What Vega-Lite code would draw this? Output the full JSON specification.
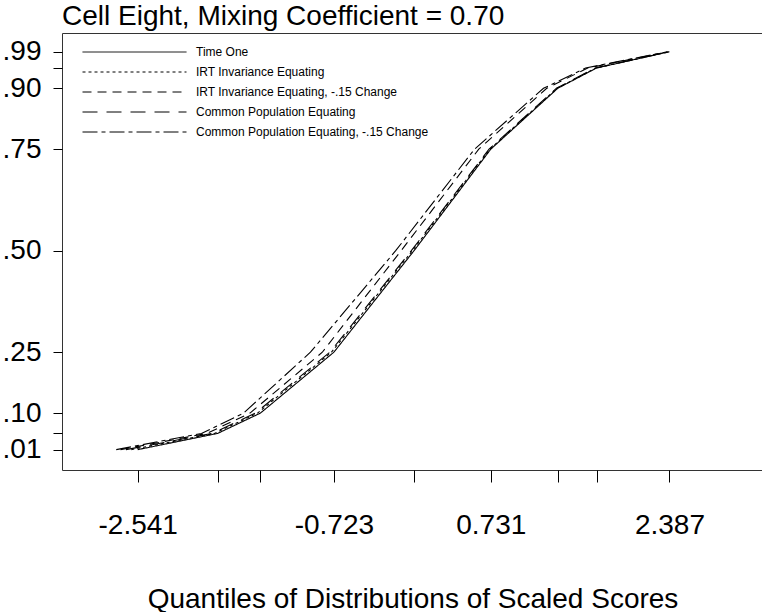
{
  "$schema": "https://vega.github.io/schema/vega-lite/v6.json",
  "autosize": {"type": "none"},
  "padding": {"left": 62, "top": 33, "right": 0, "bottom": 142},
  "width": 701,
  "height": 437,
  "background": "white",
  "title": {
    "text": "Cell Eight, Mixing Coefficient = 0.70",
    "anchor": "start",
    "frame": "group",
    "fontSize": 28,
    "font": "Liberation Sans",
    "fontWeight": "normal",
    "color": "black",
    "baseline": "alphabetic",
    "offset": 6,
    "dy": 26
  },
  "config": {
    "view": {"stroke": "#333", "strokeWidth": 1},
    "axis": {
      "grid": false,
      "domain": false,
      "tickColor": "black",
      "tickWidth": 1,
      "labelColor": "black",
      "labelFont": "Liberation Sans",
      "labelFontSize": 28,
      "titleFont": "Liberation Sans",
      "titleFontWeight": "normal",
      "titleColor": "black",
      "labelOverlap": false,
      "labelFlush": false,
      "labelBound": false
    },
    "legend": {
      "orient": "none",
      "legendX": 20,
      "legendY": 13,
      "padding": 0,
      "symbolType": "stroke",
      "symbolSize": 10816,
      "symbolStrokeWidth": 1,
      "symbolStrokeColor": "black",
      "symbolOffset": 0,
      "labelFont": "Liberation Sans",
      "labelFontSize": 12,
      "labelColor": "black",
      "labelOffset": 9,
      "labelLimit": 400,
      "clipHeight": 12,
      "rowPadding": 8
    }
  },
  "data": {
    "values": [
      {"series": "Time One", "x": -2.541, "p": 0.01},
      {"series": "Time One", "x": -1.800, "p": 0.05},
      {"series": "Time One", "x": -1.404, "p": 0.10},
      {"series": "Time One", "x": -0.723, "p": 0.25},
      {"series": "Time One", "x": 0.020, "p": 0.50},
      {"series": "Time One", "x": 0.731, "p": 0.75},
      {"series": "Time One", "x": 1.352, "p": 0.90},
      {"series": "Time One", "x": 1.712, "p": 0.95},
      {"series": "Time One", "x": 2.387, "p": 0.99},
      {"series": "IRT Invariance Equating", "x": -2.60, "p": 0.01},
      {"series": "IRT Invariance Equating", "x": -1.83, "p": 0.05},
      {"series": "IRT Invariance Equating", "x": -1.43, "p": 0.10},
      {"series": "IRT Invariance Equating", "x": -0.745, "p": 0.25},
      {"series": "IRT Invariance Equating", "x": 0.005, "p": 0.50},
      {"series": "IRT Invariance Equating", "x": 0.722, "p": 0.75},
      {"series": "IRT Invariance Equating", "x": 1.345, "p": 0.90},
      {"series": "IRT Invariance Equating", "x": 1.705, "p": 0.95},
      {"series": "IRT Invariance Equating", "x": 2.385, "p": 0.99},
      {"series": "IRT Invariance Equating, -.15 Change", "x": -2.70, "p": 0.01},
      {"series": "IRT Invariance Equating, -.15 Change", "x": -1.90, "p": 0.05},
      {"series": "IRT Invariance Equating, -.15 Change", "x": -1.50, "p": 0.10},
      {"series": "IRT Invariance Equating, -.15 Change", "x": -0.83, "p": 0.25},
      {"series": "IRT Invariance Equating, -.15 Change", "x": -0.10, "p": 0.50},
      {"series": "IRT Invariance Equating, -.15 Change", "x": 0.62, "p": 0.75},
      {"series": "IRT Invariance Equating, -.15 Change", "x": 1.25, "p": 0.90},
      {"series": "IRT Invariance Equating, -.15 Change", "x": 1.63, "p": 0.95},
      {"series": "IRT Invariance Equating, -.15 Change", "x": 2.37, "p": 0.99},
      {"series": "Common Population Equating", "x": -2.65, "p": 0.01},
      {"series": "Common Population Equating", "x": -1.85, "p": 0.05},
      {"series": "Common Population Equating", "x": -1.45, "p": 0.10},
      {"series": "Common Population Equating", "x": -0.76, "p": 0.25},
      {"series": "Common Population Equating", "x": -0.005, "p": 0.50},
      {"series": "Common Population Equating", "x": 0.715, "p": 0.75},
      {"series": "Common Population Equating", "x": 1.34, "p": 0.90},
      {"series": "Common Population Equating", "x": 1.70, "p": 0.95},
      {"series": "Common Population Equating", "x": 2.38, "p": 0.99},
      {"series": "Common Population Equating, -.15 Change", "x": -2.74, "p": 0.01},
      {"series": "Common Population Equating, -.15 Change", "x": -1.95, "p": 0.05},
      {"series": "Common Population Equating, -.15 Change", "x": -1.56, "p": 0.10},
      {"series": "Common Population Equating, -.15 Change", "x": -0.94, "p": 0.25},
      {"series": "Common Population Equating, -.15 Change", "x": -0.15, "p": 0.50},
      {"series": "Common Population Equating, -.15 Change", "x": 0.58, "p": 0.75},
      {"series": "Common Population Equating, -.15 Change", "x": 1.22, "p": 0.90},
      {"series": "Common Population Equating, -.15 Change", "x": 1.61, "p": 0.95},
      {"series": "Common Population Equating, -.15 Change", "x": 2.37, "p": 0.99}
    ]
  },
  "mark": {"type": "line", "color": "black", "strokeWidth": 1.1},
  "encoding": {
    "x": {
      "field": "x",
      "type": "quantitative",
      "scale": {"domain": [-3.2426, 3.2542], "nice": false, "zero": false},
      "axis": {
        "title": "Quantiles of Distributions of Scaled Scores",
        "titleFontSize": 28,
        "titlePadding": 46,
        "values": [-2.541, -1.800, -1.404, -0.723, 0.020, 0.731, 1.352, 1.712, 2.387],
        "labelExpr": "abs(datum.value+2.541)<0.001 ? '-2.541' : abs(datum.value+0.723)<0.001 ? '-0.723' : abs(datum.value-0.731)<0.001 ? '0.731' : abs(datum.value-2.387)<0.001 ? '2.387' : ''",
        "tickSize": 12,
        "labelPadding": 29
      }
    },
    "y": {
      "field": "p",
      "type": "quantitative",
      "scale": {"domain": [-0.0401, 1.0362], "nice": false, "zero": false},
      "axis": {
        "title": null,
        "values": [0.01, 0.05, 0.1, 0.25, 0.5, 0.75, 0.9, 0.95, 0.99],
        "labelExpr": "(datum.value==0.05||datum.value==0.95) ? '' : replace(format(datum.value,'.2f'),'0.','.')",
        "tickSize": 9,
        "labelPadding": 12
      }
    },
    "strokeDash": {
      "field": "series",
      "type": "nominal",
      "scale": {
        "domain": ["Time One", "IRT Invariance Equating", "IRT Invariance Equating, -.15 Change", "Common Population Equating", "Common Population Equating, -.15 Change"],
        "range": [[1, 0], [3, 3], [9, 6], [15, 9], [15, 4, 4, 4]]
      },
      "legend": {"title": null}
    }
  }
}
